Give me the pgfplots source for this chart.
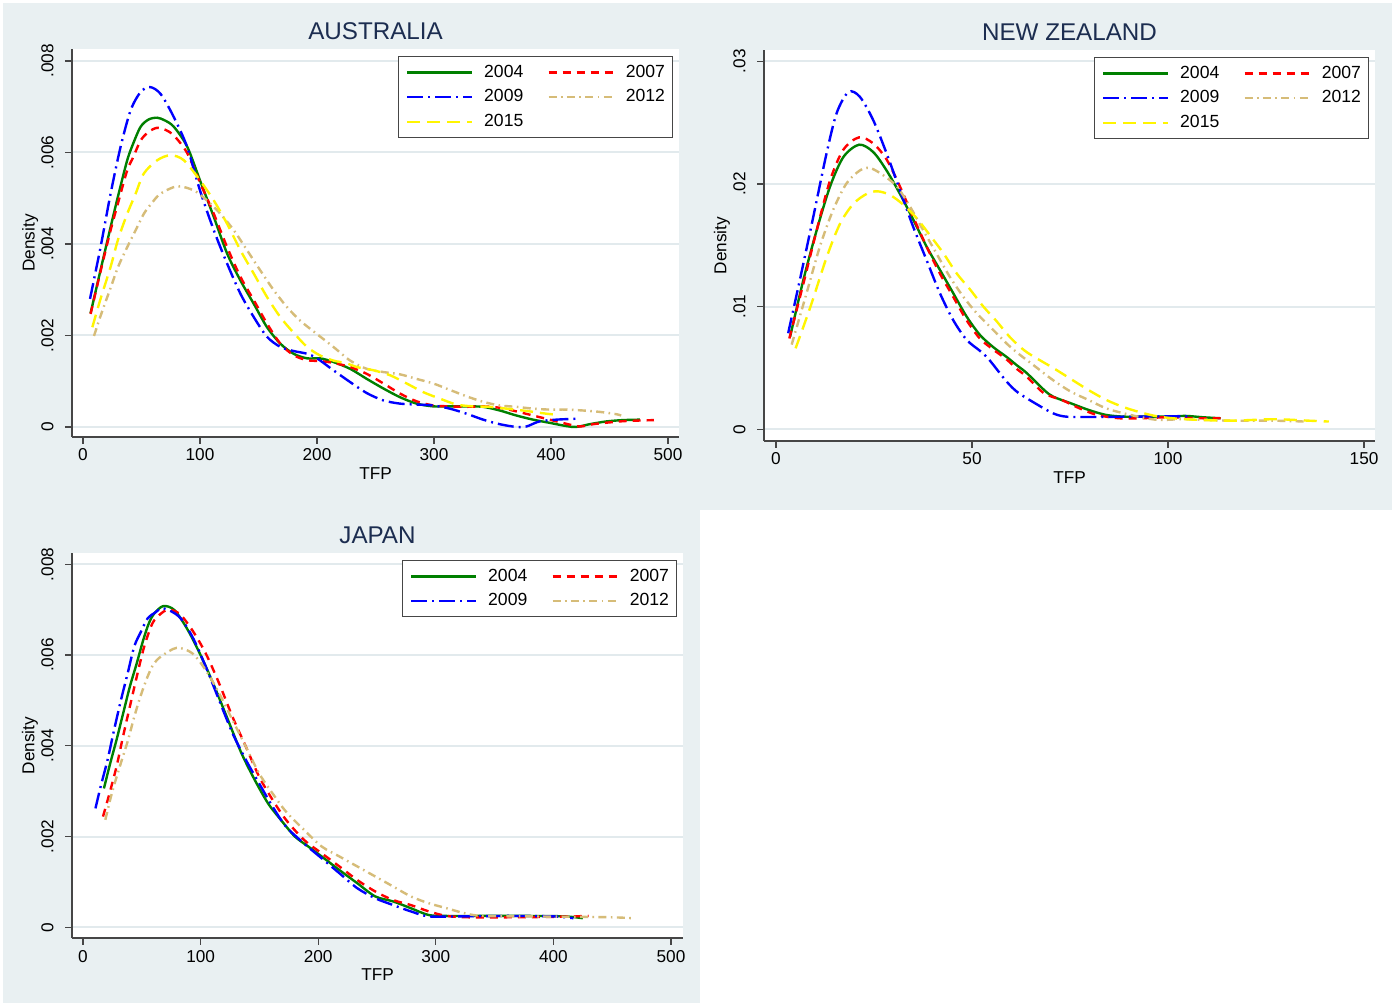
\documentclass[border=0pt]{standalone}
\usepackage{fontspec}
\setmainfont{Liberation Sans}
\usepackage{pgfplots}
\pgfplotsset{compat=1.18}
\definecolor{bgc}{RGB}{233,240,242}
\definecolor{gridc}{RGB}{226,234,237}
\definecolor{sgreen}{RGB}{0,128,0}
\definecolor{sred}{RGB}{255,0,0}
\definecolor{sblue}{RGB}{0,0,255}
\definecolor{stan}{RGB}{214,188,120}
\definecolor{syellow}{RGB}{255,245,0}
\definecolor{titlec}{RGB}{28,45,80}
\definecolor{axc}{RGB}{70,70,70}
\pgfplotsset{
  panel/.style={
    scale only axis,
    axis background/.style={fill=white},
    axis x line*=bottom, axis y line*=left,
    axis line style={axc, line width=0.6pt},
    tick align=outside, major tick length=3.5pt,
    tick style={axc, line width=0.6pt},
    ymajorgrids, grid style={gridc, line width=1pt},
    scaled ticks=false,
    /pgf/number format/assume math mode=true,
    ticklabel style={font=\fontsize{8.6}{10}\selectfont, inner sep=0pt},
    xticklabel style={anchor=north, yshift=-2.3pt},
    yticklabel style={rotate=90, anchor=south},
    yticklabel shift=5.5pt,
    xlabel={TFP}, ylabel={Density},
    label style={font=\fontsize{8.6}{10}\selectfont},
    xlabel style={at={(axis description cs:0.5,0)}, anchor=base, yshift=-21.5pt},
    ylabel style={at={(axis description cs:-0.069,0.5)}, anchor=center},
    title style={font=\fontsize{12.1}{14}\selectfont, color=titlec, at={(0.5,1)}, anchor=base, yshift=-1.3pt},
    legend columns=2,
    legend cell align=left,
    legend image code/.code={\draw[#1] (0pt,0pt) -- (32.5pt,0pt);},
    legend style={at={(1,1)}, anchor=north east, xshift=-3pt, yshift=-3.7pt,
      draw=axc, line width=0.5pt, fill=white,
      font=\fontsize{8.8}{10}\selectfont,
      nodes={inner sep=0pt},
      inner xsep=3.8pt, inner ysep=4pt, row sep=4.7pt,
      /tikz/every odd column/.append style={column sep=5.5pt},
      /tikz/every even column/.append style={column sep=12pt}},
    every axis plot/.append style={line width=1.2pt, smooth, tension=0.5},
  },
  s04/.style={sgreen, solid},
  s07/.style={sred, dash pattern=on 4pt off 3pt},
  s09/.style={sblue, dash pattern=on 8pt off 2.5pt on 1pt off 2.5pt},
  s12/.style={stan, dash pattern=on 4pt off 2.2pt on 0.8pt off 2.2pt},
  s15/.style={syellow, dash pattern=on 6.5pt off 3.5pt},
}
\begin{document}
\begin{tikzpicture}
\useasboundingbox (0,0) rectangle (696pt,502.5pt);
\fill[bgc] (1.5pt,247.5pt) rectangle (696pt,501pt);
\fill[bgc] (1.5pt,1pt) rectangle (350pt,248pt);
% ---------------- AUSTRALIA
\begin{axis}[panel, at={(36pt,284pt)}, anchor=south west,
  width=303.5pt, height=194pt,
  xmin=-9.4, xmax=509.4, ymin=-0.000219, ymax=0.008262,
  xtick={0,100,200,300,400,500}, xticklabels={0,100,200,300,400,500},
  ytick={0,0.002,0.004,0.006,0.008}, yticklabels={0,.002,.004,.006,.008},
  title={AUSTRALIA}]
\addplot[s04] coordinates {(6.5,0.00249) (15,0.00343) (23.6,0.00437) (30,0.00505) (37.8,0.00583) (43,0.0062) (49.2,0.00656) (56,0.00672) (63.4,0.00676) (70,0.0067) (77.7,0.00656) (89,0.00613) (100,0.00539) (111.8,0.00459) (123.2,0.00379) (134.6,0.0032) (146,0.00269) (157.3,0.00218) (168.7,0.00182) (180,0.0016) (191.5,0.0015) (202.8,0.0015) (214,0.00142) (228.4,0.00127) (242.6,0.00105) (256.8,0.00084) (271,0.00065) (285.2,0.00051) (299.4,0.00045) (313.6,0.00045) (327.8,0.00045) (342,0.00044) (356.2,0.00036) (370.5,0.00025) (384.7,0.00016) (398.9,0.00009) (413,0.00002) (421.6,0.0) (433,0.00006) (447,0.00012) (461.4,0.00015) (476,0.00016)};
\addlegendentry{2004}
\addplot[s07] coordinates {(6.5,0.00247) (15,0.0034) (23.6,0.0043) (30,0.0049) (37.8,0.00561) (43,0.0059) (49.2,0.00626) (56,0.00645) (63.4,0.00654) (70,0.0065) (77.7,0.00637) (89,0.00599) (100.4,0.00532) (111.8,0.00466) (123.2,0.00393) (134.6,0.00328) (146,0.00277) (157.3,0.00226) (168.7,0.00182) (180,0.00157) (191.5,0.00146) (202.8,0.00144) (214,0.0014) (228.4,0.00131) (242.6,0.00116) (256.8,0.00095) (271,0.00073) (285.2,0.00056) (299.4,0.00047) (313.6,0.00045) (327.8,0.00044) (342,0.00045) (356.2,0.00042) (370.5,0.00034) (384.7,0.00025) (398.9,0.00016) (413,0.00007) (424.4,0.00001) (435.8,0.00006) (450,0.0001) (464.2,0.00013) (488,0.00015)};
\addlegendentry{2007}
\addplot[s09] coordinates {(6,0.0028) (15,0.00393) (23.6,0.0051) (32.1,0.00612) (40.7,0.00692) (49.2,0.00732) (57.2,0.00743) (66.3,0.00728) (77.7,0.00677) (89,0.00612) (100,0.00517) (111.8,0.0043) (123.2,0.00357) (134.6,0.00291) (146,0.0024) (157.3,0.00197) (168.7,0.00175) (180,0.00166) (191.5,0.0016) (200,0.0015) (214,0.00124) (228.4,0.00098) (242.6,0.00074) (256.8,0.00058) (271,0.00051) (285.2,0.00049) (299.4,0.00047) (313.6,0.0004) (327.8,0.00029) (342,0.00016) (356.2,0.00006) (370.5,0.0) (379,0.00001) (390,0.00012) (404.5,0.00016) (421.6,0.00018)};
\addlegendentry{2009}
\addplot[s12] coordinates {(9.4,0.00199) (16,0.0025) (23.6,0.00304) (30,0.0035) (37.8,0.00393) (45,0.0043) (52,0.00466) (59,0.0049) (66.3,0.0051) (80.5,0.00526) (94.7,0.00517) (106,0.00495) (117.4,0.00466) (128.9,0.0043) (140.3,0.00386) (151.6,0.00342) (163,0.00299) (174.4,0.00262) (185.8,0.00232) (200,0.00203) (214,0.00175) (228.4,0.00145) (242.6,0.00127) (256.8,0.0012) (271,0.00115) (285.2,0.00105) (299.4,0.00095) (313.6,0.00081) (327.8,0.00067) (342,0.00055) (356.2,0.00047) (370.5,0.00044) (384.7,0.0004) (398.9,0.00038) (413,0.00038) (427.3,0.00036) (441.5,0.00033) (455.7,0.00028) (460,0.00025)};
\addlegendentry{2012}
\addplot[s15] coordinates {(8,0.00218) (15,0.0028) (23.6,0.0035) (30,0.0041) (37.8,0.00466) (45,0.0051) (52,0.00554) (63.4,0.00583) (74.8,0.00594) (86.2,0.00583) (100,0.00539) (111.8,0.00495) (123.2,0.00444) (134.6,0.00386) (146,0.00335) (157.3,0.00284) (168.7,0.0024) (180,0.00206) (191.5,0.00175) (202.8,0.00156) (214.2,0.00145) (225.6,0.00139) (234,0.00131) (248.2,0.00124) (262.5,0.00113) (276.7,0.00095) (290.9,0.00076) (305,0.00062) (319.3,0.00049) (333.5,0.00045) (347.7,0.00044) (361.9,0.0004) (379,0.00035) (396,0.00029) (404,0.00027)};
\addlegendentry{2015}
\end{axis}
% ---------------- NEW ZEALAND
\begin{axis}[panel, at={(382pt,282pt)}, anchor=south west,
  width=305.5pt, height=195.5pt,
  xmin=-3.06, xmax=152.8, ymin=-0.000954, ymax=0.03092,
  xtick={0,50,100,150}, xticklabels={0,50,100,150},
  ytick={0,0.01,0.02,0.03}, yticklabels={0,.01,.02,.03},
  title={NEW ZEALAND}]
\addplot[s04] coordinates {(3.6,0.00755) (7,0.0122) (10.4,0.01625) (13.8,0.0198) (17.2,0.0222) (21.2,0.0232) (24.8,0.0226) (28.2,0.0211) (31.6,0.0192) (35,0.0171) (38.4,0.0149) (41.8,0.013) (45.2,0.0111) (48.6,0.0092) (52,0.0077) (55.4,0.0067) (58.8,0.0059) (61.5,0.0052) (63.9,0.0046) (68.4,0.0032) (70.7,0.00266) (75.2,0.00212) (79.7,0.00158) (84.2,0.00117) (88.7,0.00103) (93.2,0.00103) (100,0.00103) (104.4,0.00109) (108.9,0.00098) (113.4,0.0009)};
\addlegendentry{2004}
\addplot[s07] coordinates {(3.4,0.0074) (7,0.0119) (10.4,0.01625) (13.8,0.0203) (17.2,0.0228) (21.2,0.0238) (24.8,0.0233) (28.2,0.022) (31.6,0.0198) (35,0.0173) (38.4,0.0149) (41.8,0.0127) (45.2,0.0108) (48.6,0.0089) (52,0.0074) (55.4,0.0065) (58.8,0.0057) (61.5,0.0049) (63.9,0.0043) (68.4,0.00293) (72.9,0.00239) (77.4,0.00171) (81.9,0.00117) (87.5,0.0009) (93.2,0.0009) (100,0.00098) (106.7,0.0009) (113.5,0.0009)};
\addlegendentry{2007}
\addplot[s09] coordinates {(3.1,0.00783) (6.1,0.0122) (9.5,0.0173) (12.9,0.0225) (15.5,0.0258) (18.5,0.0275) (21.4,0.0271) (24.8,0.0252) (28.2,0.0225) (31.6,0.0195) (35,0.0165) (38.4,0.0138) (41.8,0.0111) (45.2,0.0089) (48.6,0.0073) (52,0.0064) (54.3,0.0057) (58.8,0.0039) (61.7,0.0030) (66.2,0.0021) (70.7,0.0013) (74,0.00103) (80,0.001) (90,0.00103) (100,0.00105) (105,0.00105)};
\addlegendentry{2009}
\addplot[s12] coordinates {(4,0.0069) (7.8,0.0111) (11.2,0.0149) (14.6,0.0179) (18,0.02005) (21.4,0.0211) (24,0.0213) (27.4,0.0207) (30.8,0.0198) (34.1,0.0182) (37.5,0.01625) (40.9,0.01435) (44.3,0.01245) (47.8,0.0108) (51.2,0.00946) (55.4,0.0081) (58.8,0.007) (61.7,0.0062) (66.2,0.0051) (70.7,0.004) (75.2,0.00307) (79.7,0.00239) (84.2,0.00171) (88.7,0.0013) (93.2,0.00098) (97.7,0.00076) (104.4,0.00082) (115.7,0.0007) (127,0.0007) (135,0.00063)};
\addlegendentry{2012}
\addplot[s15] coordinates {(5,0.0066) (8.8,0.01) (13,0.0141) (16.4,0.0168) (19.8,0.0184) (23.2,0.0192) (25.9,0.0194) (29.1,0.0191) (32.5,0.0183) (35.9,0.0172) (39.3,0.0158) (42.7,0.01435) (46.1,0.0127) (49.5,0.0114) (52.9,0.01) (56.3,0.0088) (59.7,0.0075) (63.9,0.0063) (70.7,0.005) (75.2,0.0041) (79.7,0.0032) (84.2,0.0024) (88.7,0.0018) (93.2,0.00136) (97.7,0.00103) (104.4,0.00082) (115.7,0.0007) (127,0.00082) (136,0.0007) (141,0.00063)};
\addlegendentry{2015}
\end{axis}
% ---------------- JAPAN
\begin{axis}[panel, at={(36pt,33.5pt)}, anchor=south west,
  width=305.5pt, height=192.5pt,
  xmin=-9.35, xmax=510.2, ymin=-0.000236, ymax=0.00825,
  xtick={0,100,200,300,400,500}, xticklabels={0,100,200,300,400,500},
  ytick={0,0.002,0.004,0.006,0.008}, yticklabels={0,.002,.004,.006,.008},
  title={JAPAN}]
\addplot[s04] coordinates {(17.8,0.00306) (23,0.0036) (28.5,0.00413) (34,0.0047) (39.8,0.0053) (45.5,0.0058) (51.2,0.00633) (56,0.0067) (60.7,0.00692) (68.3,0.00708) (77.8,0.00699) (89.2,0.00655) (100.5,0.00597) (111.9,0.0053) (123.3,0.00457) (134.7,0.00384) (146,0.00325) (157.4,0.00273) (168.8,0.00235) (180.2,0.002) (191.6,0.00178) (203,0.00156) (218.1,0.00126) (233.3,0.00097) (248.5,0.00068) (263.7,0.00057) (278.8,0.00042) (294,0.00027) (309,0.00025) (340,0.00025) (380,0.00025) (410,0.00024) (425,0.0002)};
\addlegendentry{2004}
\addplot[s07] coordinates {(17,0.00244) (22,0.0029) (28.5,0.00354) (34,0.0042) (39.8,0.00486) (45.5,0.0055) (51.2,0.00611) (56,0.0065) (60.7,0.00677) (70.9,0.00699) (81.6,0.00692) (92.9,0.00655) (104.3,0.00604) (115.7,0.00538) (127.1,0.00464) (138.5,0.00398) (149.8,0.00332) (161.2,0.00281) (172.6,0.00237) (187.8,0.00193) (203,0.00163) (218.1,0.00134) (233.3,0.00104) (248.5,0.00079) (263.7,0.0006) (278.8,0.00049) (294,0.00035) (309.2,0.00025) (328,0.00022) (360,0.00022) (400,0.00023) (430,0.00025)};
\addlegendentry{2007}
\addplot[s09] coordinates {(10.6,0.00262) (15,0.0031) (20.9,0.00369) (26,0.0043) (32.2,0.005) (38,0.0056) (43.6,0.00619) (49,0.0065) (55,0.00681) (61,0.00693) (68.3,0.00703) (81.6,0.00685) (92.9,0.00641) (104.3,0.00575) (115.7,0.00501) (127.1,0.00428) (138.5,0.00369) (149.8,0.00317) (161.2,0.00266) (172.6,0.00222) (187.8,0.00185) (203,0.00152) (218.1,0.00119) (233.3,0.00086) (248.5,0.00064) (263.7,0.00049) (278.8,0.00035) (294,0.00024) (320,0.00024) (360,0.00025) (400,0.00024) (417,0.0002)};
\addlegendentry{2009}
\addplot[s12] coordinates {(19,0.00237) (25,0.003) (32.2,0.00362) (38,0.0041) (43.6,0.00464) (49,0.0051) (55,0.00553) (60,0.0058) (66.4,0.00597) (79.7,0.00616) (92.9,0.00604) (104.3,0.00567) (115.7,0.00516) (127.1,0.00457) (138.5,0.00398) (149.8,0.00339) (161.2,0.00295) (172.6,0.00255) (187.8,0.00215) (203,0.00178) (218.1,0.00156) (233.3,0.00134) (248.5,0.00112) (263.7,0.0009) (278.8,0.00068) (294,0.00053) (309.2,0.00042) (324.4,0.00031) (339.5,0.00025) (380,0.00024) (420,0.00023) (450,0.00022) (468,0.0002)};
\addlegendentry{2012}
\end{axis}
\end{tikzpicture}
\end{document}
